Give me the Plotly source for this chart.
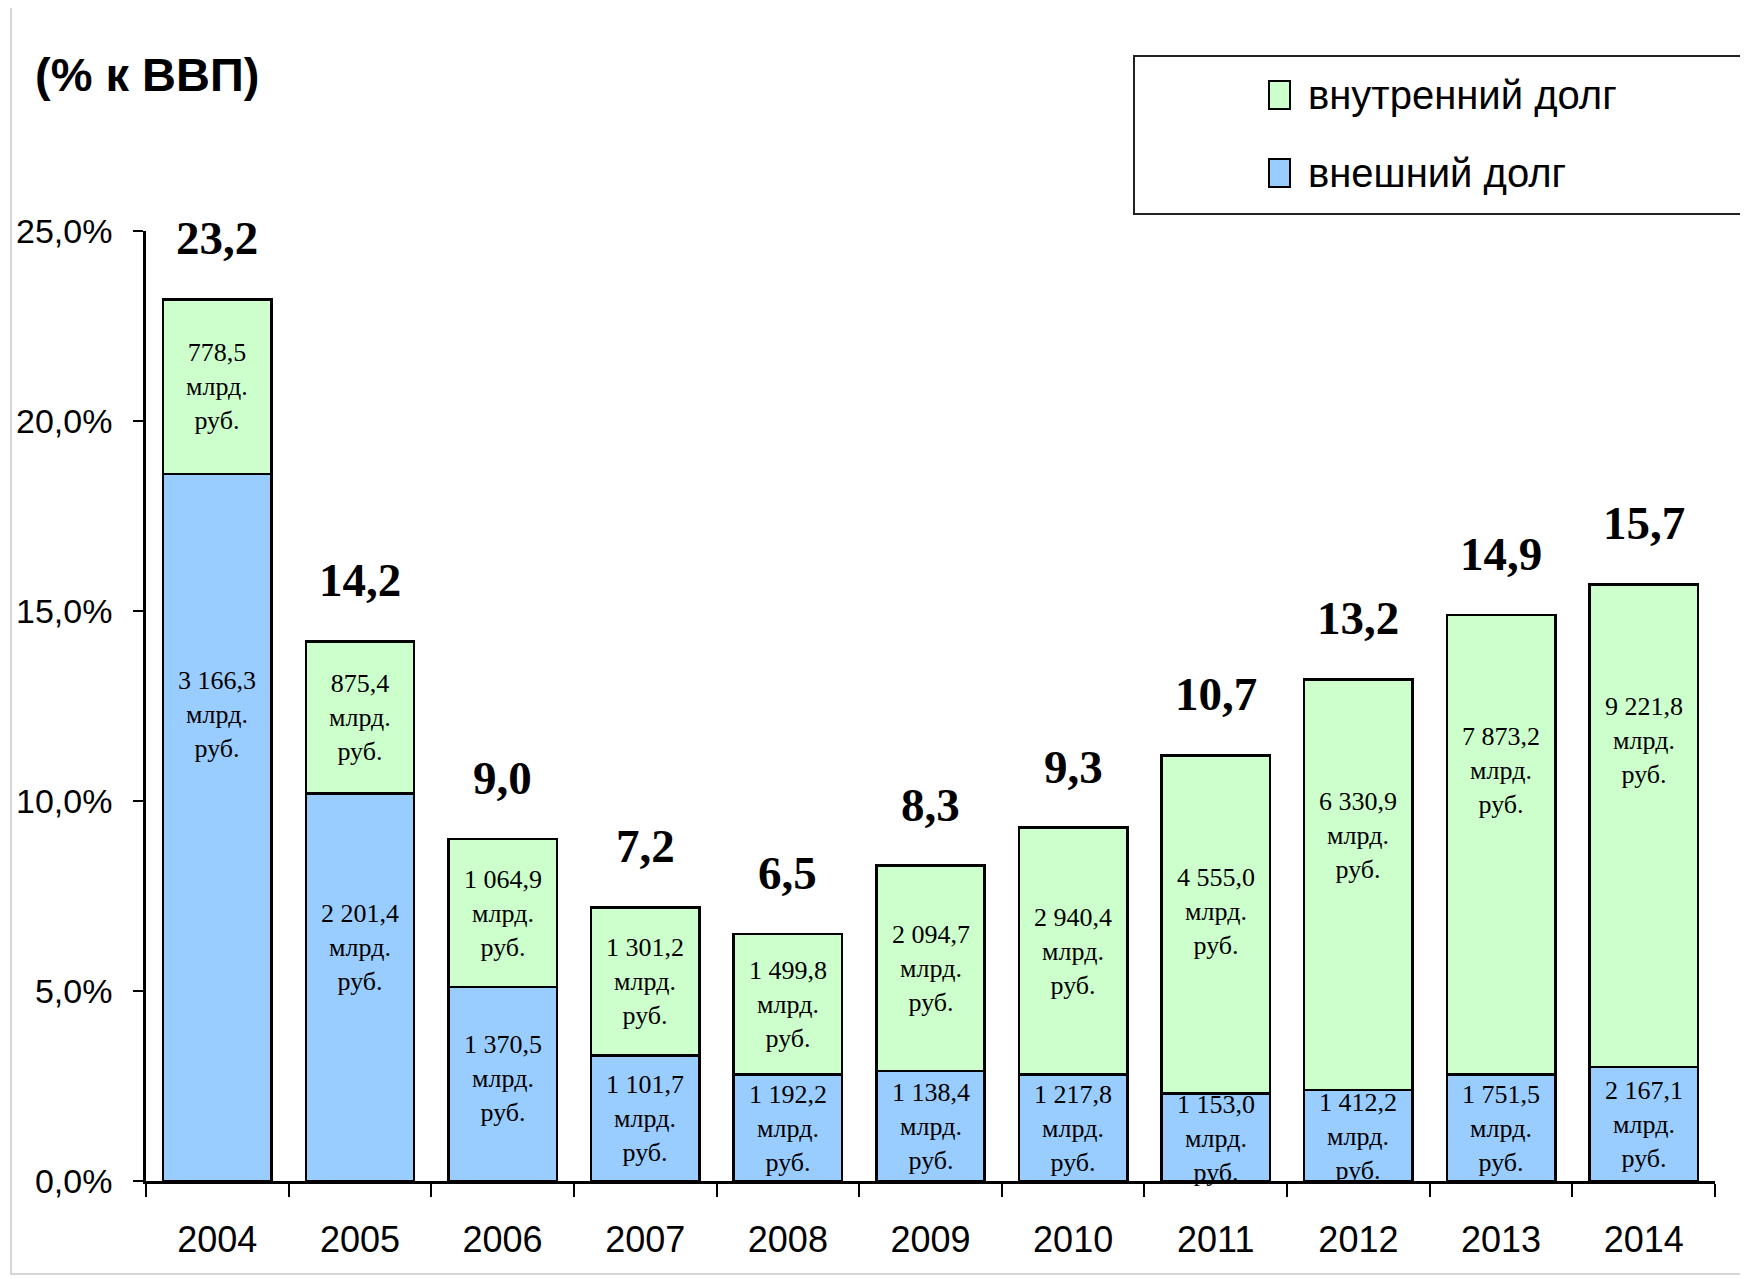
import plotly.graph_objects as go

# ---------------- data ----------------
years = ["2004", "2005", "2006", "2007", "2008", "2009", "2010", "2011", "2012", "2013", "2014"]
external_pct = [18.6, 10.2, 5.1, 3.3, 2.8, 2.9, 2.8, 2.3, 2.4, 2.8, 3.0]
internal_pct = [4.6, 4.0, 3.9, 3.9, 3.7, 5.4, 6.5, 8.9, 10.8, 12.1, 12.7]
total_labels = ["23,2", "14,2", "9,0", "7,2", "6,5", "8,3", "9,3", "10,7", "13,2", "14,9", "15,7"]
external_rub = ["3 166,3", "2 201,4", "1 370,5", "1 101,7", "1 192,2", "1 138,4",
                "1 217,8", "1 153,0", "1 412,2", "1 751,5", "2 167,1"]
internal_rub = ["778,5", "875,4", "1 064,9", "1 301,2", "1 499,8", "2 094,7",
                "2 940,4", "4 555,0", "6 330,9", "7 873,2", "9 221,8"]
unit_text = "млрд.<br>руб."
legend_internal = "внутренний долг"
legend_external = "внешний долг"
title_text = "(% к ВВП)"

# ---------------- layout geometry ----------------
W, H = 1748, 1279
OFF = 8  # page body margin around the figure
ML, MR, MT, MB = 138, 41, 223, 106
PW, PH = W - ML - MR, H - MT - MB


def px_x(page_px):
    return (page_px - OFF - ML) / PW


def px_y(page_py):
    return (H - MB - (page_py - OFF)) / PH


BLUE = "#99CCFF"
GREEN = "#CCFFCC"
SERIF = "Liberation Serif, Times New Roman, serif"
SANS = "Liberation Sans, Arial, sans-serif"

fig = go.Figure()
fig.add_trace(go.Bar(
    x=years, y=external_pct, name=legend_external,
    marker=dict(color=BLUE, line=dict(color="black", width=2.5)),
    hoverinfo="skip", showlegend=False,
))
fig.add_trace(go.Bar(
    x=years, y=internal_pct, name=legend_internal,
    marker=dict(color=GREEN, line=dict(color="black", width=2.5)),
    hoverinfo="skip", showlegend=False,
))

annotations = []
CAP = 4.1  # max distance (in % units) of a green label centre below the bar top
for i, yr in enumerate(years):
    ext = external_pct[i]
    tot = ext + internal_pct[i]
    y_ext = ext * (0.45 + 0.015 * min(ext, 14))
    annotations.append(dict(
        x=i, y=y_ext, xref="x", yref="y", text=external_rub[i] + "<br>" + unit_text,
        showarrow=False, font=dict(family=SERIF, size=26, color="black"),
        xanchor="center", yanchor="middle"))
    y_int = max(ext + internal_pct[i] / 2, tot - CAP)
    annotations.append(dict(
        x=i, y=y_int, xref="x", yref="y", text=internal_rub[i] + "<br>" + unit_text,
        showarrow=False, font=dict(family=SERIF, size=26, color="black"),
        xanchor="center", yanchor="middle"))
    annotations.append(dict(
        x=i, y=tot, xref="x", yref="y", text="<b>" + total_labels[i] + "</b>",
        showarrow=False, font=dict(family=SERIF, size=47, color="black"),
        xanchor="center", yanchor="bottom", yshift=33))

annotations.append(dict(
    x=px_x(33), y=px_y(75), xref="paper", yref="paper", text="<b>" + title_text + "</b>",
    showarrow=False, font=dict(family=SANS, size=47, color="black"),
    xanchor="left", yanchor="middle"))

# legend (drawn as a boxed key)
legend_items = [(legend_internal, GREEN, 95), (legend_external, BLUE, 173)]
shapes = [
    dict(type="rect", xref="paper", yref="paper",
         x0=px_x(11), x1=px_x(1790), y0=px_y(1274), y1=px_y(7),
         line=dict(color="#C8C8C8", width=1.5), fillcolor="rgba(0,0,0,0)", layer="below"),
    dict(type="rect", xref="paper", yref="paper",
         x0=px_x(1134), x1=px_x(1790), y0=px_y(214), y1=px_y(56),
         line=dict(color="#222222", width=2), fillcolor="white", layer="below"),
]
for name, col, cy in legend_items:
    shapes.append(dict(type="rect", xref="paper", yref="paper",
                       x0=px_x(1269), x1=px_x(1290), y0=px_y(cy + 14), y1=px_y(cy - 14),
                       line=dict(color="black", width=2), fillcolor=col))
    annotations.append(dict(
        x=px_x(1306), y=px_y(cy), xref="paper", yref="paper", text=name,
        showarrow=False, font=dict(family=SANS, size=40, color="black"),
        xanchor="left", yanchor="middle"))

fig.update_layout(
    width=W, height=H,
    margin=dict(l=ML, r=MR, t=MT, b=MB, pad=0, autoexpand=False),
    paper_bgcolor="white", plot_bgcolor="white",
    barmode="stack", bargap=0.24,
    separators=", ",
    showlegend=False,
    annotations=annotations,
    shapes=shapes,
    xaxis=dict(
        type="category", range=[-0.5, len(years) - 0.5],
        showline=True, linecolor="black", linewidth=2.5,
        ticks="outside", tickson="boundaries", ticklen=13, tickwidth=2, tickcolor="black",
        tickfont=dict(family=SANS, size=36, color="black"), tickangle=0,
        ticklabelstandoff=25, showgrid=False, zeroline=False,
    ),
    yaxis=dict(
        range=[0, 25], dtick=5, tick0=0, tickformat=".1f", ticksuffix="%",
        showline=True, linecolor="black", linewidth=2.5,
        ticks="outside", ticklen=10, tickwidth=2, tickcolor="black",
        tickfont=dict(family=SANS, size=34, color="black"),
        ticklabelstandoff=14, showgrid=False, zeroline=False,
    ),
)

fig.write_html("out.html")
